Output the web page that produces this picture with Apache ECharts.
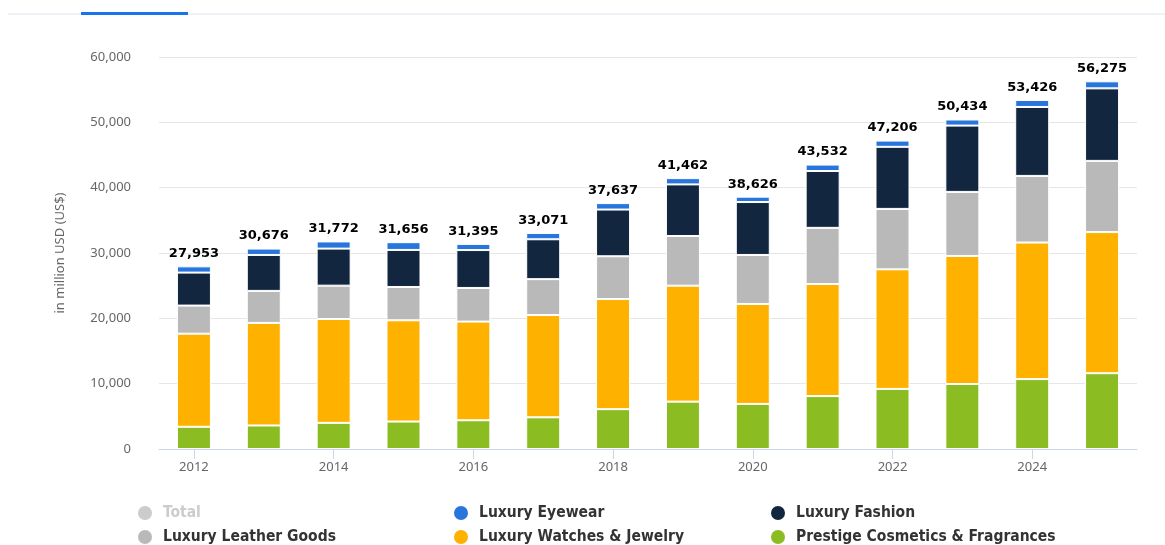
<!DOCTYPE html>
<html>
<head>
<meta charset="utf-8">
<title>Luxury goods revenue</title>
<script src="https://cdn.jsdelivr.net/npm/echarts@6/dist/echarts.min.js"></script>
<style>
html,body{margin:0;padding:0;background:#fff;}
#main{width:1165px;height:545px;}
</style>
</head>
<body>
<div id="main"></div>
<script>
// data (million USD)
var years=['2012','2013','2014','2015','2016','2017','2018','2019','2020','2021','2022','2023','2024','2025'];
var cosmetics=[3400,3600,4000,4200,4400,4850,6100,7250,6900,8100,9200,9950,10700,11600];
var watches=[14250,15700,15900,15500,15100,15650,16850,17750,15300,17150,18300,19600,20900,21600];
var leather=[4300,4900,5100,5100,5150,5500,6550,7600,7500,8600,9250,9800,10200,10900];
var fashion=[5050,5500,5670,5670,5800,6100,7150,7900,8100,8700,9500,10150,10550,11100];
var eyewear=[953,976,1102,1186,945,971,987,962,826,982,956,934,1076,1075];
var totals=[27953,30676,31772,31656,31395,33071,37637,41462,38626,43532,47206,50434,53426,56275];

var chart=echarts.init(document.getElementById('main'));

function fmt(v){
	return echarts.format.addCommas(v);
}

function barSeries(name,data,color){
	return {
		name:name,
		type:'bar',
		stack:'all',
		barWidth:34,
		data:data,
		itemStyle:{
			color:color,
			borderColor:'#fff',
			borderWidth:1
		}
	};
}

var legendText={
	fontFamily:"'DejaVu Sans Condensed', 'DejaVu Sans', sans-serif",
	fontWeight:'bold',
	fontSize:15.5,
	lineHeight:16,
	padding:[0,0,0,6],
	color:'#333'
};

// three little vertical legends, so the items line up in columns
function legendCol(left,names){
	return {
		orient:'vertical',
		left:left,
		top:505,
		height:60,
		padding:0,
		itemWidth:14,
		itemHeight:14,
		itemGap:8,
		icon:'circle',
		itemStyle:{borderWidth:0},
		inactiveColor:'#cccccc',
		textStyle:legendText,
		data:names,
		selected:{'Total':false}
	};
}

var topSeries=barSeries('Luxury Eyewear',eyewear,'#2876dd');
topSeries.label={
	show:true,
	position:'top',
	distance:6,
	fontFamily:"'DejaVu Sans', sans-serif",
	fontWeight:'bold',
	fontSize:13,
	color:'#000',
	formatter:function(p){ return fmt(totals[p.dataIndex]); }
};

var options={
	backgroundColor:'#ffffff',
	animation:false,
	grid:{left:159,right:28,top:57,bottom:96},
	graphic:[
		{type:'rect',shape:{x:8,y:13,width:1157,height:2},style:{fill:'#eef1f5'}},
		{type:'rect',shape:{x:81,y:12,width:107,height:3},style:{fill:'#1a73e8'}}
	],
	legend:[
		legendCol(138,['Total','Luxury Leather Goods']),
		legendCol(454,['Luxury Eyewear','Luxury Watches & Jewelry']),
		legendCol(771,['Luxury Fashion','Prestige Cosmetics & Fragrances'])
	],
	xAxis:{
		type:'category',
		data:years,
		axisLine:{lineStyle:{color:'#ccd6eb'}},
		axisTick:{show:true,interval:1,alignWithLabel:true,length:10,lineStyle:{color:'#ccd6eb'}},
		axisLabel:{interval:1,color:'#666',fontSize:13,margin:12,fontFamily:"'Noto Sans', sans-serif"}
	},
	yAxis:{
		type:'value',
		min:0,
		max:60000,
		interval:10000,
		name:'in million USD (US$)',
		nameLocation:'middle',
		nameGap:92,
		nameTextStyle:{color:'#666',fontSize:13,fontFamily:"'Noto Sans', sans-serif"},
		axisLabel:{color:'#666',fontSize:13,margin:28,fontFamily:"'Noto Sans', sans-serif",formatter:function(v){return fmt(v);}},
		splitLine:{lineStyle:{color:'#e6e6e6'}}
	},
	series:[
		{
			name:'Total',
			type:'bar',
			data:totals,
			itemStyle:{color:'#cccccc'}
		},
		barSeries('Prestige Cosmetics & Fragrances',cosmetics,'#8bbc21'),
		barSeries('Luxury Watches & Jewelry',watches,'#ffb100'),
		barSeries('Luxury Leather Goods',leather,'#b9b9b9'),
		barSeries('Luxury Fashion',fashion,'#12263f'),
		topSeries
	]
};
chart.setOption(options);
</script>
</body>
</html>
